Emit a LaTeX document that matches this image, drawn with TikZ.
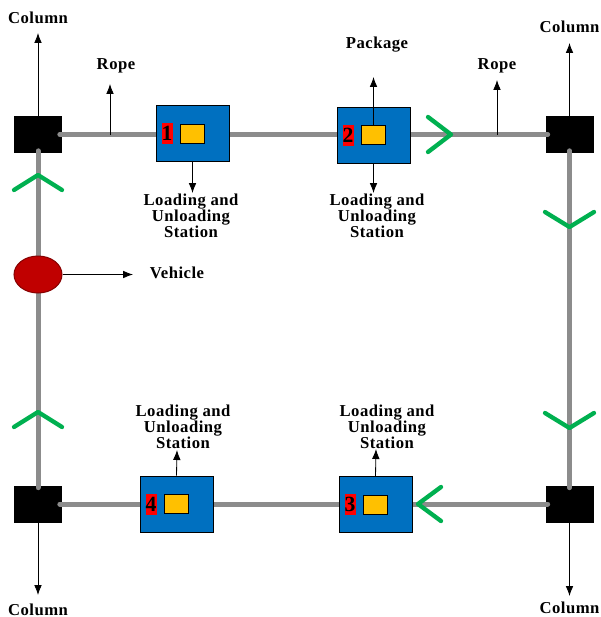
\documentclass[tikz,border=0pt]{standalone}
\usepackage{fontspec}
\setmainfont{Liberation Serif}
\usetikzlibrary{arrows.meta,positioning,shapes.geometric}

\definecolor{ropegray}{HTML}{8C8C8C}
\definecolor{stationblue}{HTML}{0070C0}
\definecolor{pkgyellow}{HTML}{FFC000}
\definecolor{movegreen}{HTML}{00B050}
\definecolor{vehiclered}{HTML}{C00000}

\tikzset{
	column/.style={fill=black, minimum width=28.8pt, minimum height=22.2pt, inner sep=0pt},
	station/.style={draw=black, line width=0.6pt, fill=stationblue, minimum width=43.8pt, minimum height=33.6pt, inner sep=0pt},
	parcel/.style={draw=black, line width=0.5pt, fill=pkgyellow, minimum width=14.4pt, minimum height=11.4pt, inner sep=0pt},
	stationno/.style={fill=red, minimum width=6.6pt, minimum height=12.6pt, inner sep=0pt, font=\fontsize{13}{13}\selectfont\bfseries},
	vehicle/.style={ellipse, draw=vehiclered!70!black, line width=0.6pt, fill=vehiclered, minimum width=28.8pt, minimum height=22.2pt, inner sep=0pt},
	rope/.style={ropegray, line width=3pt, line cap=round},
	chevron/.style={movegreen, line width=2.6pt, line cap=round, line join=round},
	pointer/.style={-{Latex[length=6pt,width=4.6pt]}, line width=0.5pt},
	lbl/.style={font=\fontsize{10}{9.6}\selectfont\bfseries\addfontfeatures{LetterSpace=3}, align=center, inner sep=0pt}
}

\begin{document}
\begin{tikzpicture}[x=0.6pt,y=-0.6pt]
		\useasboundingbox (0,0) rectangle (600,617);

		%draw columns
		\node[column] (c1) at (38,134.5) {};
		\node[column] (c2) at (569.5,134.5) {};
		\node[column] (c3) at (569.5,504) {};
		\node[column] (c4) at (38,504) {};

		%draw rope
		\draw[rope] ([xshift=-1.5pt]c1.east) -- ([xshift=1.5pt]c2.west);
		\draw[rope] ([yshift=1.5pt]c2.south) -- ([yshift=-1.5pt]c3.north);
		\draw[rope] ([xshift=1.5pt]c3.west) -- ([xshift=-1.5pt]c4.east);
		\draw[rope] ([yshift=-1.5pt]c4.north) -- ([yshift=1.5pt]c1.south);

		%draw moving direction
		\draw[chevron] (14,190) -- (38,175) -- (62,190);
		\draw[chevron] (14,427) -- (38,412) -- (62,427);
		\draw[chevron] (545,212) -- (569.5,227) -- (594,212);
		\draw[chevron] (545,413) -- (569.5,428) -- (594,413);
		\draw[chevron] (428,117) -- (451,134.5) -- (428,152);
		\draw[chevron] (441,487) -- (418,504) -- (441,521);

		%draw stations
		\node[station] (s1) at (192.5,133.5) {};
		\node[station] (s2) at (373.5,135) {};
		\node[station] (s3) at (375.5,504.5) {};
		\node[station] (s4) at (176.5,504) {};
		\foreach \n in {1,2,3,4}
		{
			\node[parcel] (p\n) at (s\n.center) {};
			\node[stationno] (n\n) at ([xshift=-15.3pt]s\n.center) {\n};
		}

		%draw vehicle
		\node[vehicle] (v) at (38,274.5) {};

		%columns
		\coordinate (c1end) at (38,33);
		\coordinate (c2end) at (569.5,43);
		\coordinate (c3end) at (569.5,596);
		\coordinate (c4end) at (38,595);
		\draw[pointer] (c1.north) -- (c1end);
		\draw[pointer] (c2.north) -- (c2end);
		\draw[pointer] (c3.south) -- (c3end);
		\draw[pointer] (c4.south) -- (c4end);
		\node[lbl] (lc1) at (38,18) {Column};
		\node[lbl] (lc2) at (569.5,27) {Column};
		\node[lbl] (lc3) at (569.5,608) {Column};
		\node[lbl] (lc4) at (38,610) {Column};

		%rope
		\coordinate (r1) at (110,134.5);
		\coordinate (r1end) at (110,84);
		\coordinate (r2) at (497,134.5);
		\coordinate (r2end) at (497,80);
		\draw[pointer] (r1) -- (r1end);
		\draw[pointer] (r2) -- (r2end);
		\node[lbl] (lr1) at (116,66) {Rope};
		\node[lbl] (lr2) at (497,66) {Rope};

		%package
		\coordinate (p2end) at (373.5,77);
		\draw[pointer] (p2.north) -- (p2end);
		\node[lbl] (lp) at (377,45) {Package};

		%vehicle
		\coordinate (vend) at (133,274.5);
		\draw[pointer] (v.east) -- (vend);
		\node[lbl] (lv) at (177,273) {Vehicle};

		%loading and unloading stations
		\coordinate (s1end) at (192.5,193);
		\coordinate (s2end) at (373.5,193);
		\coordinate (s3end) at (376,449);
		\coordinate (s4end) at (177,450);
		\draw[pointer] (s1.south) -- (s1end);
		\draw[pointer] (s2.south) -- (s2end);
		\draw[pointer] (s3.north) -- (s3end);
		\draw[pointer] (s4.north) -- (s4end);
		\node[lbl] (ls1) at (191,216) {Loading and\\Unloading\\Station};
		\node[lbl] (ls2) at (377,216) {Loading and\\Unloading\\Station};
		\node[lbl] (ls3) at (387,427) {Loading and\\Unloading\\Station};
		\node[lbl] (ls4) at (183,427) {Loading and\\Unloading\\Station};
\end{tikzpicture}
\end{document}
